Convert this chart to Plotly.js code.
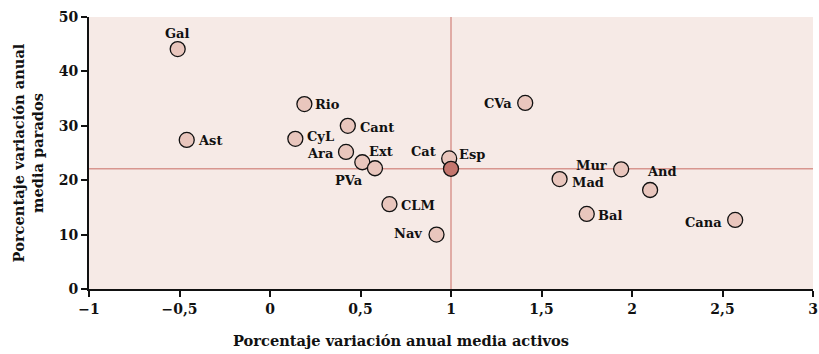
<!DOCTYPE html>
<html>
<head>
<meta charset="utf-8">
<script src="https://cdn.plot.ly/plotly-3.0.1.min.js"></script>
<style>html,body{margin:0;padding:0;background:#fff;}#chart{width:819px;height:354px;}</style>
</head>
<body>
<div id="chart"></div>
<script>
// Data
const regions = ["Gal","Ast","Rio","CyL","Cant","Ara","Ext","PVa","CLM","Nav","Cat","CVa","Mur","Mad","And","Bal","Cana"];
const activos = [-0.51,-0.46,0.19,0.14,0.43,0.42,0.51,0.58,0.66,0.92,0.99,1.41,1.94,1.60,2.10,1.75,2.57];
const parados = [44.1,27.4,34.0,27.6,30.0,25.2,23.3,22.2,15.6,10.0,24.0,34.2,22.0,20.2,18.2,13.8,12.7];

const espName = "Esp";
const espActivos = 1.0;
const espParados = 22.1;

// Label placement (style)
const labelAnchor = ["center","left","left","left","left","right","left","right","left","right","right","right","right","left","center","left","right"];
const labelDx = [0,9,9,10,10,-10,5,-10,10,-13,-11,-11,-12,10,12,9,-11];
const labelDy = [-16,1,0,-2,2,2,-11,12,1,-1,-7,1,-4,3,-18,2,3];
const espAnchor = "left", espDx = 6, espDy = -14;

const font = "DejaVu Serif";
const labelFont = {family: font, size: 13, color: "#111", weight: "bold"};

const traces = [
  {
    type: "scatter", mode: "markers",
    x: activos, y: parados, text: regions, cliponaxis: false,
    marker: {size: 15, color: "#e9c6bd", line: {color: "#111", width: 1.3}},
    hoverinfo: "text", showlegend: false
  },
  {
    type: "scatter", mode: "markers",
    x: [espActivos], y: [espParados], text: [espName], cliponaxis: false,
    marker: {size: 15, color: "#c4766e", line: {color: "#111", width: 1.3}},
    showlegend: false
  }
];

const annotations = regions.map((r, i) => ({
  x: activos[i], y: parados[i], xref: "x", yref: "y", text: r, showarrow: false,
  xanchor: labelAnchor[i], yanchor: "middle", xshift: labelDx[i], yshift: -labelDy[i],
  font: labelFont
}));
annotations.push({
  x: espActivos, y: espParados, xref: "x", yref: "y", text: espName, showarrow: false,
  xanchor: espAnchor, yanchor: "middle", xshift: espDx, yshift: -espDy, font: labelFont
});

const axisTitleFont = {family: font, size: 14.6, color: "#111", weight: "bold"};
const tickFont = {family: font, size: 14, color: "#111", weight: "bold"};

annotations.push({
  xref: "paper", yref: "paper", x: 0.431, y: -0.1875, xanchor: "center", yanchor: "middle",
  text: "Porcentaje variación anual media activos", showarrow: false, font: axisTitleFont
});

const layout = {
  width: 819, height: 354,
  margin: {l: 89, r: 6, t: 17, b: 65},
  paper_bgcolor: "#ffffff",
  plot_bgcolor: "#f6eae6",
  separators: ",.",
  xaxis: {
    range: [-1, 3], dtick: 0.5, tick0: -1,
    showgrid: false, zeroline: false,
    showline: true, linecolor: "#111", linewidth: 2,
    ticks: "outside", ticklen: 6, tickwidth: 2, tickcolor: "#111",
    tickfont: tickFont
  },
  yaxis: {
    range: [0, 50], dtick: 10,
    showgrid: false, zeroline: false,
    showline: true, linecolor: "#111", linewidth: 2,
    ticks: "outside", ticklen: 6, tickwidth: 2, tickcolor: "#111",
    tickfont: tickFont,
    title: {text: "Porcentaje variación anual<br>media parados", font: axisTitleFont, standoff: 12}
  },
  annotations: annotations,
  shapes: [
    {type: "line", xref: "x", yref: "paper", x0: espActivos, x1: espActivos, y0: 0, y1: 1,
     line: {color: "#d8968f", width: 1.5}, layer: "below"},
    {type: "line", xref: "paper", yref: "y", x0: 0, x1: 1, y0: espParados, y1: espParados,
     line: {color: "#d8968f", width: 1.5}, layer: "below"}
  ]
};

Plotly.newPlot("chart", traces, layout, {staticPlot: true, displayModeBar: false});
</script>
</body>
</html>
